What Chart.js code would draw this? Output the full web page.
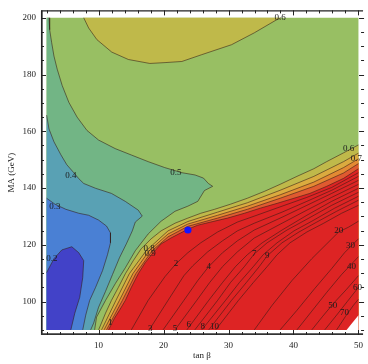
<!DOCTYPE html>
<html>
<head>
<meta charset="utf-8">
<script src="https://cdn.jsdelivr.net/npm/chart.js@4.4.1/dist/chart.umd.min.js"></script>
<style>
html,body{margin:0;padding:0;background:#fff;overflow:hidden}
canvas{display:block}
</style>
</head>
<body>
<canvas id="chart" width="368" height="364"></canvas>
<script>
// ---------- data (tan beta, MA) ----------
const xTickValues = [10, 20, 30, 40, 50];
const yTickValues = [100, 120, 140, 160, 180, 200];
const tanBetaRange = [2, 50];
const maRange = [90, 200];

// contour 0.6 (upper region)
const c06top = [[7.71,200],[8.47,196.4],[9.74,192.3],[12.03,187.9],[14.58,185.3],[17.89,183.9],[20.23,184.2],[22.82,184.6],[25.88,187.0],[30.46,190.5],[33.97,194.7],[37.33,199.2],[38.09,200]];
// contour 0.5
const c05 = [[2.37,200],[2.47,195.8],[2.78,191.2],[3.13,186.5],[3.63,181.9],[4.40,176.1],[5.42,170.2],[6.69,165.0],[8.21,160.3],[10.0,156.9],[12.55,153.9],[15.08,151.6],[17.63,149.3],[20.18,147.2],[22.82,145.4],[24.85,144.6],[26.14,143.5],[26.9,141.6],[27.56,140.6],[26.29,139.1],[25.27,135.3],[23.74,133.6],[21.76,131.8],[19.62,128.3],[17.63,123.8],[15.65,117.9],[14.12,111.9],[12.60,106.4],[11.07,100.4],[9.69,94.5],[9.39,90]];
// contour 0.4
const c04 = [[2,165.7],[2.37,160.8],[3.13,156.3],[4.20,151.7],[5.11,148.2],[6.18,145.4],[6.95,143.3],[7.71,141.6],[9.54,139.9],[11.98,138.1],[14.1,135.3],[16.11,132.2],[16.72,130.1],[15.65,128.0],[15.19,124.9],[14.27,120.3],[13.21,115.4],[12.14,109.5],[11.07,103.6],[10.0,98.0],[9.24,92.4],[8.78,90]];
// contour 0.3
const c03 = [[2,136.4],[3.28,134.3],[4.96,132.5],[6.95,131.1],[8.47,130.4],[10.0,128.7],[11.22,126.6],[11.83,124.2],[11.83,120.7],[11.37,116.5],[10.61,110.9],[9.54,105.0],[8.63,100.4],[8.02,95.2],[7.56,90]];
// contour 0.2
const c02 = [[2,110.2],[3.13,115.1],[4.35,118.2],[5.88,119.3],[6.95,117.2],[7.71,114.4],[7.56,108.4],[7.10,101.5],[6.34,95.9],[5.73,90]];
// contours 0.6 .. 1.0 (lower right band)
const c06 = [[10.0,90],[11.07,95.9],[11.98,100.4],[13.05,105.0],[14.12,109.8],[15.34,114.4],[16.56,118.6],[18.09,122.1],[19.62,124.9],[21.76,127.6],[23.74,129.4],[25.73,131.1],[27.86,132.5],[30.31,134.3],[32.90,136.4],[35.50,138.8],[37.94,141.3],[40.53,144.1],[43.13,146.8],[45.11,149.3],[47.71,152.4],[50,155.2]];
const c07 = [[10.46,90],[12.67,100.4],[14.73,109.8],[17.33,117.9],[20.69,124.9],[23.74,128.2],[28.32,131.5],[32.90,134.8],[37.94,139.2],[43.13,144.1],[47.71,149.3],[50,152.3]];
const c08 = [[10.84,90],[13.21,100.4],[15.27,109.8],[17.79,117.9],[20.69,123.8],[23.74,127.3],[28.32,130.4],[32.90,133.6],[37.94,137.6],[43.13,142.1],[47.71,147.2],[50,150.3]];
const c09 = [[11.22,90],[13.66,100.4],[15.73,109.8],[18.24,117.9],[20.69,122.8],[23.74,126.5],[28.32,129.4],[32.90,132.5],[37.94,136.4],[43.13,140.6],[47.71,145.3],[50,148.6]];
const c1 = [[11.53,90],[12.44,94.1],[13.21,96.9],[14.12,100.4],[15.04,105.0],[16.11,109.8],[17.18,113.7],[18.40,117.2],[19.62,120.3],[21.15,122.4],[22.67,124.2],[23.74,125.5],[25.27,126.9],[27.25,128.0],[29.85,129.4],[32.44,131.1],[34.89,132.9],[37.48,134.6],[40.08,136.4],[42.52,138.1],[45.11,140.6],[47.71,143.4],[50,146.8]];
// contours inside the red region
const c2 = [[15.04,90],[17.63,100.4],[20.23,108.8],[21.91,113.3],[23.74,117.2],[25.73,120.7],[28.32,124.5],[31.37,128.0],[33.97,130.1],[38.24,133.6],[42.06,136.7],[45.88,140.2],[50,145.4]];
const c3 = [[17.79,90],[20.69,100.4],[23.13,109.1],[24.50,112.6],[26.79,117.5],[29.08,121.4],[31.37,124.9],[33.97,127.6],[38.24,131.5],[42.06,135.3],[45.88,139.2],[50,144.1]];
const c4 = [[19.92,90],[23.13,100.4],[25.27,107.4],[26.95,112.3],[29.08,117.2],[31.37,121.4],[33.97,125.2],[38.24,129.7],[42.06,133.9],[45.88,138.1],[50,142.7]];
const c5 = [[21.76,90],[25.11,100.4],[27.10,106.7],[29.08,112.3],[31.37,117.5],[33.97,122.4],[38.24,127.6],[42.06,132.2],[45.88,136.7],[50,141.3]];
const c6 = [[23.59,90],[26.95,100.4],[29.08,106.7],[31.07,112.3],[32.90,116.5],[35.19,120.7],[38.24,125.2],[42.06,130.4],[45.88,135.3],[50,139.9]];
const c7 = [[24.81,90],[28.32,100.4],[30.31,106.7],[32.44,112.3],[33.97,116.8],[35.95,120.7],[39.01,125.2],[42.06,129.0],[45.88,133.9],[50,138.5]];
const c8 = [[25.88,90],[29.54,100.4],[31.68,106.7],[33.82,112.3],[35.34,116.5],[37.48,120.7],[40.08,124.9],[42.82,128.3],[46.34,132.9],[50,137.1]];
const c9 = [[26.95,90],[30.46,100.4],[32.75,106.7],[34.73,112.3],[35.95,116.1],[38.24,120.7],[40.84,124.5],[43.59,128.0],[46.64,131.8],[50,135.7]];
const c10 = [[28.02,90],[31.53,100.4],[33.82,106.7],[35.95,112.3],[37.48,116.5],[39.47,120.7],[42.06,124.5],[44.66,127.6],[47.40,131.1],[50,133.9]];
const c20 = [[33.97,90],[36.72,98.7],[39.77,107.4],[42.82,115.1],[45.11,120.3],[46.95,124.5],[48.47,126.2],[50,128.3]];
const c30 = [[37.94,90],[40.53,96.9],[43.28,104.6],[45.88,111.6],[47.86,117.2],[50,122.1]];
const c40 = [[40.53,90],[42.82,96.6],[45.11,103.2],[47.40,109.5],[50,115.8]];
const c50 = [[42.82,90],[44.50,94.8],[46.18,99.4],[48.17,104.3],[50,109.1]];
const c60 = [[44.81,90],[46.64,95.2],[48.32,100.1],[50,105.0]];
const c70 = [[46.64,90],[48.02,94.8],[49.24,98.7],[50,100.8]];
// corner with no data
const missingCorner = [[48.17,90],[50,90],[50,95.2]];
// marked point
const markedPoint = [23.75, 125.2];

// contour labels
const labelText = ['0.6','0.5','0.4','0.3','0.2','0.6','0.7','0.8','0.9','1','2','3','4','5','6','7','8','9','10','20','30','40','50','60','70'];
const labelX = [37.94,21.91,5.73,3.28,2.82,48.47,49.69,17.79,17.94,11.83,21.91,17.94,26.95,21.76,23.89,33.97,26.03,35.95,27.86,46.95,48.78,48.93,46.03,49.85,47.86];
const labelY = [199.9,145.4,144.4,133.6,115.1,153.8,150.3,118.6,116.8,92.4,113.3,90.3,112.3,90.3,92.0,116.8,91.0,116.1,91.0,124.9,119.6,112.3,98.7,105.0,96.2];

// ---------- build ----------
const SERIF = '"Liberation Serif", "DejaVu Serif", serif';
const P = a => a.map(([x, y]) => ({x, y}));
const [X0, X1] = tanBetaRange, [Y0, Y1] = maRange;
const datasets = [];
let paint = 0;
function addFill(pts, color) {
  datasets.push({data: P(pts), showLine: true, fill: 'shape', backgroundColor: color,
    borderColor: 'rgba(0,0,0,0)', borderWidth: 0, pointRadius: 0, pointHoverRadius: 0,
    tension: 0, order: 1000 - (paint++)});
}
function addLine(pts) {
  datasets.push({data: P(pts), showLine: true, fill: false, borderColor: 'rgba(50,25,20,0.7)',
    borderWidth: 0.8, pointRadius: 0, pointHoverRadius: 0, tension: 0, order: 1000 - (paint++)});
}
addFill([[X0,Y0],[X1,Y0],[X1,Y1],[X0,Y1]], '#98bf63');
addFill(c06top, '#bfb94a');
addFill([[X0,Y1], ...c05, [X0,Y0]], '#72b585');
addFill([...c04, [X0,Y0]], '#59a1b4');
addFill([...c03, [X0,Y0]], '#4a80d4');
addFill([...c02, [X0,Y0]], '#4242c8');
addFill([...c06, [X1,Y0]], '#bfb94a');
addFill([...c07, [X1,Y0]], '#dbab3f');
addFill([...c08, [X1,Y0]], '#e38a33');
addFill([...c09, [X1,Y0]], '#e05a30');
addFill([...c1, [X1,Y0]], '#dd2424');
addFill(missingCorner, '#ffffff');
[c02, c03, c04, c05, c06top, c06, c07, c08, c09, c1, c2, c3, c4, c5, c6, c7, c8, c9, c10, c20, c30, c40, c50, c60, c70].forEach(addLine);
datasets.push({data: [{x: markedPoint[0], y: markedPoint[1]}], showLine: false, pointRadius: 3.6,
  pointHoverRadius: 3.6, backgroundColor: '#1414ff', borderWidth: 0, order: 1000 - (paint++)});

const labelPlugin = {
  id: 'contourLabels',
  afterDatasetsDraw(chart) {
    const {ctx, scales: {x, y}} = chart;
    ctx.save();
    ctx.font = '9px ' + SERIF;
    ctx.fillStyle = '#1c1c1c';
    ctx.textAlign = 'center';
    ctx.textBaseline = 'middle';
    labelText.forEach((t, i) => ctx.fillText(t, x.getPixelForValue(labelX[i]), y.getPixelForValue(labelY[i])));
    ctx.restore();
  }
};

const framePlugin = {
  id: 'frame',
  afterDraw(chart) {
    const {ctx, chartArea: a, scales: {x, y}} = chart;
    ctx.save();
    ctx.strokeStyle = '#222';
    const seg = (x1, y1, x2, y2) => { ctx.beginPath(); ctx.moveTo(x1, y1); ctx.lineTo(x2, y2); ctx.stroke(); };
    ctx.lineWidth = 1.1;
    seg(a.left, a.top + 0.5, a.right, a.top + 0.5);
    ctx.lineWidth = 1.7;
    seg(a.left + 0.8, a.top, a.left + 0.8, a.bottom);
    ctx.strokeStyle = '#333';
    seg(a.left, a.bottom - 0.8, a.right, a.bottom - 0.8);
    ctx.strokeStyle = '#222';
    ctx.lineWidth = 1;
    const rightEdge = a.right + 1;
    for (let v = 2; v <= 50; v += 2) {
      const L = xTickValues.includes(v) ? 5 : 3;
      const px = Math.round(x.getPixelForValue(v)) + 0.5;
      seg(px, a.bottom, px, a.bottom - L);
      seg(px, a.top, px, a.top + L);
    }
    for (let v = 90; v <= 200; v += 5) {
      const L = yTickValues.includes(v) ? 5 : 3;
      const py = Math.round(y.getPixelForValue(v)) + 0.5;
      seg(a.left, py, a.left + L, py);
      seg(rightEdge, py, rightEdge - L, py);
    }
    ctx.restore();
  }
};

new Chart(document.getElementById('chart'), {
  type: 'scatter',
  data: {datasets},
  options: {
    responsive: false,
    animation: false,
    events: [],
    layout: {padding: {top: 7, right: 0, bottom: 0, left: 0}},
    plugins: {legend: {display: false}, tooltip: {enabled: false}, filler: {propagate: false}},
    scales: {
      x: {
        type: 'linear', min: 1.136, max: 50.71,
        grid: {display: false, drawTicks: false}, border: {display: false},
        ticks: {font: {family: SERIF, size: 9}, color: '#222', padding: 5, maxRotation: 0, autoSkip: false},
        title: {display: true, text: 'tan β', font: {family: SERIF, size: 9}, color: '#222', padding: {top: 0, bottom: 3}},
        afterBuildTicks: s => { s.ticks = xTickValues.map(v => ({value: v})); },
        afterFit: s => { s.height = 29; }
      },
      y: {
        type: 'linear', min: 88.2, max: 202.6,
        grid: {display: false, drawTicks: false}, border: {display: false},
        ticks: {font: {family: SERIF, size: 9}, color: '#222', padding: 5, autoSkip: false},
        title: {display: true, text: 'MA (GeV)', font: {family: SERIF, size: 9}, color: '#222', padding: {top: 6, bottom: 0}},
        afterBuildTicks: s => { s.ticks = yTickValues.map(v => ({value: v})); },
        afterFit: s => { s.width = 41; }
      }
    }
  },
  plugins: [labelPlugin, framePlugin]
});
</script>
</body>
</html>
